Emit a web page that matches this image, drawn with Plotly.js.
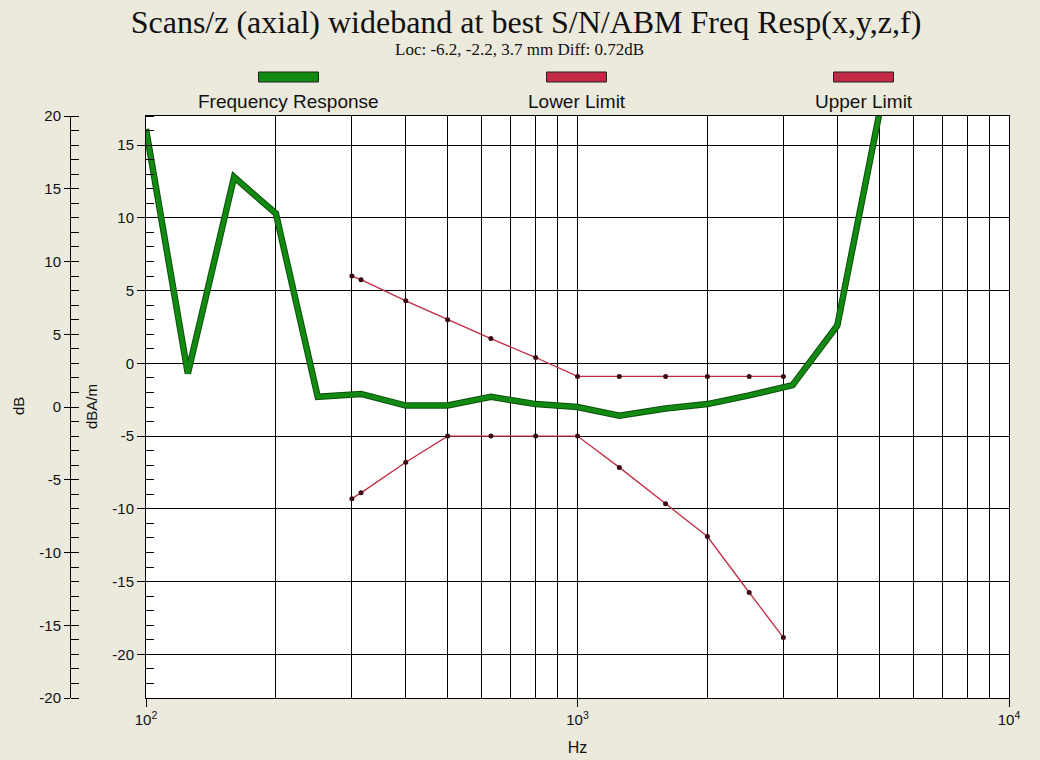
<!DOCTYPE html>
<html>
<head>
<meta charset="utf-8">
<script src="https://cdn.plot.ly/plotly-3.0.1.min.js"></script>
<style>html,body{margin:0;padding:0;background:#ECE9DD;}#chart{width:1040px;height:760px;}</style>
</head>
<body>
<div id="chart"></div>
<script>
// ---- data ----
const freqHz = [100, 125, 160, 200, 250, 315, 400, 500, 630, 800, 1000, 1250, 1600, 2000, 2500, 3150, 4000, 5000];
const freqResp = [16.1, -0.7, 12.8, 10.3, -2.3, -2.1, -2.9, -2.9, -2.3, -2.8, -3.0, -3.6, -3.1, -2.8, -2.2, -1.5, 2.6, 17.1];
const limitHz = [300, 315, 400, 500, 630, 800, 1000, 1250, 1600, 2000, 2500, 3000];
const upperLimit = [6.0, 5.75, 4.3, 3.0, 1.7, 0.4, -0.9, -0.9, -0.9, -0.9, -0.9, -0.9];
const lowerLimit = [-9.3, -8.9, -6.8, -5.0, -5.0, -5.0, -5.0, -7.15, -9.65, -11.9, -15.75, -18.85];
const xTickVals = [100, 1000, 10000];
const xTickText = ['10<sup>2</sup>', '10<sup>3</sup>', '10<sup>4</sup>'];
const innerTicks = [-20, -15, -10, -5, 0, 5, 10, 15];
const outerTicks = [-20, -15, -10, -5, 0, 5, 10, 15, 20];
const legendNames = ['Frequency Response', 'Lower Limit', 'Upper Limit'];
const titleText = 'Scans/z (axial) wideband at best S/N/ABM Freq Resp(x,y,z,f)';
const subtitleText = 'Loc: -6.2, -2.2, 3.7 mm Diff: 0.72dB';

// ---- layout geometry helpers (pixel -> paper) ----
const W = 1040, H = 760;
const M = {l: 60, r: 31, t: 116, b: 62};
const PW = W - M.l - M.r, PH = H - M.t - M.b;
const px = v => (v - M.l) / PW;
const py = v => (H - M.b - v) / PH;

const GREEN = '#128A12';
const RED = '#C42A44';
const SANS = 'Liberation Sans, Arial, sans-serif';
const SERIF = 'Liberation Serif, Times New Roman, serif';

const traces = [
  {x: freqHz, y: freqResp, type: 'scatter', mode: 'lines',
   line: {color: '#0B4F0B', width: 6.5}, hoverinfo: 'skip', showlegend: false},
  {x: freqHz, y: freqResp, type: 'scatter', mode: 'lines', name: legendNames[0],
   line: {color: GREEN, width: 4.5}, showlegend: false},
  {x: limitHz, y: lowerLimit, type: 'scatter', mode: 'lines+markers', name: legendNames[1],
   line: {color: RED, width: 1.3}, marker: {color: '#3A0A12', size: 5}, showlegend: false},
  {x: limitHz, y: upperLimit, type: 'scatter', mode: 'lines+markers', name: legendNames[2],
   line: {color: RED, width: 1.3}, marker: {color: '#3A0A12', size: 5}, showlegend: false},
  {x: freqHz, y: freqResp, yaxis: 'y2', type: 'scatter', mode: 'none', hoverinfo: 'skip', showlegend: false}
];

const legendCenters = [288.5, 576.5, 863.5];
const shapes = legendCenters.map((c, i) => ({
  type: 'rect', xref: 'paper', yref: 'paper',
  x0: px(c - 30), x1: px(c + 30), y0: py(82), y1: py(72),
  fillcolor: i === 0 ? GREEN : RED, line: {color: '#222', width: 1}
}));

const annotations = [
  {text: subtitleText, xref: 'paper', yref: 'paper', x: px(519), y: py(50), xanchor: 'center', yanchor: 'middle', showarrow: false,
   font: {family: SERIF, size: 17, color: '#111'}},
  {text: 'dB', xref: 'paper', yref: 'paper', x: px(18), y: py(406), xanchor: 'center', yanchor: 'middle', showarrow: false, textangle: -90,
   font: {family: SANS, size: 15, color: '#111'}},
  {text: 'dBA/m', xref: 'paper', yref: 'paper', x: px(91), y: py(407), xanchor: 'center', yanchor: 'middle', showarrow: false, textangle: -90,
   font: {family: SANS, size: 15, color: '#111'}}
].concat(legendNames.map((n, i) => ({
  text: n, xref: 'paper', yref: 'paper', x: px(legendCenters[i]), y: py(101), xanchor: 'center', yanchor: 'middle', showarrow: false,
  font: {family: SANS, size: 19, color: '#111'}
})));

const layout = {
  width: W, height: H, margin: M,
  paper_bgcolor: '#ECE9DD', plot_bgcolor: '#FFFFFF',
  title: {text: titleText, x: 526 / W, xref: 'container', y: 1 - 22 / H, yref: 'container',
          xanchor: 'center', yanchor: 'middle',
          font: {family: SERIF, size: 32, color: '#111'}},
  showlegend: false,
  xaxis: {
    type: 'log', range: [2, 4], domain: [px(146), 1],
    tickmode: 'array', tickvals: xTickVals, ticktext: xTickText,
    ticks: 'outside', ticklen: 8, tickcolor: '#000',
    showgrid: true, gridcolor: '#000', gridwidth: 1,
    minor: {dtick: 'D1', showgrid: true, gridcolor: '#000', gridwidth: 1, ticks: ''},
    showline: true, linecolor: '#000', linewidth: 1, mirror: true,
    tickfont: {family: SANS, size: 15, color: '#111'},
    title: {text: 'Hz', font: {family: SANS, size: 16, color: '#111'}, standoff: 14}
  },
  yaxis: {
    range: [-23, 17], tickmode: 'array', tickvals: innerTicks, ticktext: innerTicks.map(String),
    ticks: 'outside', ticklen: 8, tickcolor: '#000',
    showgrid: true, gridcolor: '#000', gridwidth: 1, zeroline: false,
    minor: {tick0: 0, dtick: 1, ticks: 'inside', ticklen: 8, tickcolor: '#000', showgrid: false},
    showline: true, linecolor: '#000', linewidth: 1, mirror: true,
    tickfont: {family: SANS, size: 15, color: '#111'}
  },
  yaxis2: {
    overlaying: 'y', anchor: 'free', position: px(70), side: 'left',
    range: [-20, 20], tickmode: 'array', tickvals: outerTicks, ticktext: outerTicks.map(String),
    ticks: 'outside', ticklen: 6, tickcolor: '#000',
    minor: {tick0: 0, dtick: 1, ticks: 'inside', ticklen: 8, tickcolor: '#000', showgrid: false},
    showgrid: false, zeroline: false,
    showline: true, linecolor: '#000', linewidth: 1,
    tickfont: {family: SANS, size: 15, color: '#111'}
  },
  shapes: shapes,
  annotations: annotations
};

Plotly.newPlot('chart', traces, layout, {staticPlot: true, displayModeBar: false});
</script>
</body>
</html>
